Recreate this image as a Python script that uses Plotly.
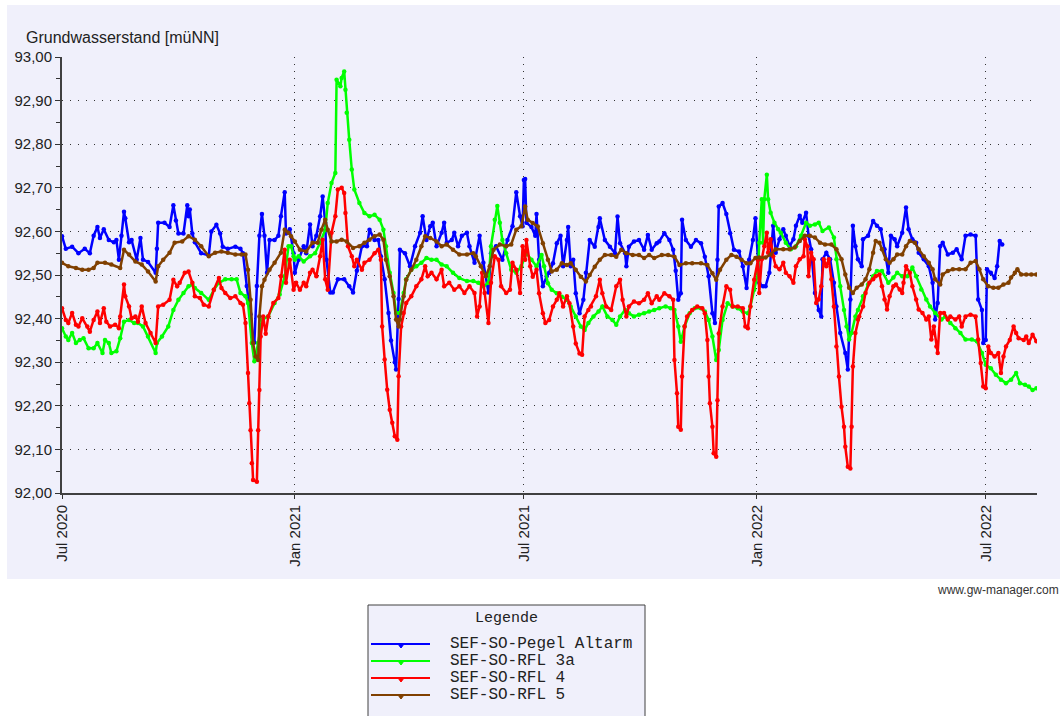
import plotly.graph_objects as go
import pandas as pd

# ---------------- data ----------------
START = pd.Timestamp("2020-07-01")  # day 0 of the readings below

series_names = ["SEF-SO-Pegel Altarm", "SEF-SO-RFL 3a", "SEF-SO-RFL 4", "SEF-SO-RFL 5"]
series_colors = ["#0000FF", "#00FF00", "#FF0000", "#804000"]

# (days since START, Grundwasserstand [müNN])
blue_readings = [
    (0, 92.589), (3, 92.56), (8, 92.565), (13, 92.55), (18, 92.56), (22, 92.55), (25, 92.59), (28, 92.61),
    (30, 92.585), (33, 92.605), (37, 92.58), (41, 92.575), (43, 92.58), (45, 92.535), (47, 92.59), (49, 92.645),
    (50, 92.63), (53, 92.575), (55, 92.58), (59, 92.535), (62, 92.585), (64, 92.535), (68, 92.53), (74, 92.505),
    (75, 92.56), (76, 92.62), (81, 92.62), (85, 92.61), (88, 92.66), (90, 92.625), (92, 92.595), (96, 92.595),
    (99, 92.66), (100, 92.635), (101, 92.65), (103, 92.595), (105, 92.575), (110, 92.55), (116, 92.545),
    (118, 92.60), (122, 92.615), (125, 92.595), (127, 92.565), (131, 92.56), (137, 92.565), (141, 92.56),
    (143, 92.55), (146, 92.475), (149, 92.41), (151, 92.35), (152, 92.345), (154, 92.475), (156, 92.59),
    (158, 92.64), (160, 92.59), (162, 92.505), (164, 92.58), (168, 92.58), (171, 92.59), (173, 92.635),
    (176, 92.69), (177, 92.595), (180, 92.605), (183, 92.55),
    (184, 92.505), (187, 92.535), (191, 92.566), (193, 92.55), (196, 92.616), (198, 92.566), (201, 92.59),
    (204, 92.635), (206, 92.68), (208, 92.62), (209, 92.535), (212, 92.46), (214, 92.46), (218, 92.49),
    (223, 92.49), (227, 92.474), (230, 92.46), (233, 92.51), (237, 92.566), (241, 92.566), (243, 92.604),
    (247, 92.58), (250, 92.58), (252, 92.543), (255, 92.49), (258, 92.413), (260, 92.35), (263, 92.30),
    (264, 92.283), (266, 92.445), (267, 92.558), (271, 92.55), (275, 92.52), (279, 92.566), (283, 92.597),
    (285, 92.635), (288, 92.58), (291, 92.612), (293, 92.62), (296, 92.566), (300, 92.597), (302, 92.62),
    (304, 92.574), (308, 92.58), (310, 92.597), (313, 92.566), (316, 92.59), (320, 92.597), (322, 92.566),
    (326, 92.528), (330, 92.59), (333, 92.528), (337, 92.46), (339, 92.55), (343, 92.566), (348, 92.535),
    (352, 92.58), (356, 92.612), (359, 92.69), (362, 92.635), (364, 92.612),
    (365, 92.718), (366, 92.72), (367, 92.62), (371, 92.61), (374, 92.59), (375, 92.64), (377, 92.535),
    (380, 92.474), (383, 92.497), (385, 92.505), (388, 92.527), (391, 92.573), (394, 92.59), (396, 92.52),
    (399, 92.58), (400, 92.61), (402, 92.52), (404, 92.535), (406, 92.458), (409, 92.412), (412, 92.443),
    (414, 92.505), (417, 92.58), (421, 92.565), (424, 92.61), (425, 92.63), (429, 92.58), (433, 92.565),
    (437, 92.55), (439, 92.634), (441, 92.573), (445, 92.55), (446, 92.52), (448, 92.565), (452, 92.577),
    (456, 92.58), (460, 92.558), (463, 92.592), (466, 92.558), (470, 92.573), (472, 92.577), (476, 92.596),
    (480, 92.58), (483, 92.558), (485, 92.51), (487, 92.443), (489, 92.458), (490, 92.627), (493, 92.58),
    (497, 92.565), (501, 92.58), (505, 92.573), (508, 92.542), (511, 92.497), (514, 92.412), (516, 92.39),
    (518, 92.535), (519, 92.657), (522, 92.665), (525, 92.64), (528, 92.596), (531, 92.558), (535, 92.554),
    (538, 92.52), (541, 92.47), (543, 92.535), (546, 92.58), (548, 92.63), (550, 92.535),
    (551, 92.482), (554, 92.474), (556, 92.474), (559, 92.505), (562, 92.613), (564, 92.551), (567, 92.582),
    (570, 92.605), (572, 92.59), (575, 92.566), (578, 92.582), (580, 92.613), (583, 92.636), (585, 92.62),
    (588, 92.643), (590, 92.59), (592, 92.559), (595, 92.459), (598, 92.42), (600, 92.405), (601, 92.536),
    (604, 92.551), (607, 92.536), (610, 92.482), (612, 92.428), (615, 92.367), (619, 92.321), (621, 92.283),
    (623, 92.444), (625, 92.613), (627, 92.566), (629, 92.536), (632, 92.52), (633, 92.582), (637, 92.59),
    (641, 92.624), (644, 92.613), (647, 92.605), (650, 92.559), (653, 92.505), (655, 92.59), (658, 92.582),
    (660, 92.566), (664, 92.597), (667, 92.655), (669, 92.605), (672, 92.582), (675, 92.574), (677, 92.551),
    (681, 92.536), (685, 92.52), (688, 92.482), (690, 92.398), (692, 92.436), (694, 92.566), (696, 92.574),
    (700, 92.547), (704, 92.551), (707, 92.559), (711, 92.536), (714, 92.59), (718, 92.593), (722, 92.59),
    (724, 92.444), (727, 92.42), (728, 92.344), (730, 92.351), (731, 92.513), (734, 92.505), (737, 92.493),
    (739, 92.52), (741, 92.578), (743, 92.57),
]

green_readings = [
    (0, 92.378), (3, 92.359), (5, 92.351), (8, 92.367), (11, 92.344), (14, 92.351), (17, 92.355), (21, 92.332),
    (25, 92.332), (28, 92.344), (32, 92.321), (34, 92.351), (37, 92.344), (39, 92.321), (43, 92.325),
    (46, 92.355), (49, 92.393), (53, 92.397), (57, 92.39), (60, 92.39), (64, 92.382), (68, 92.359),
    (74, 92.321), (75, 92.344), (79, 92.359), (84, 92.382), (88, 92.42), (92, 92.443), (96, 92.459),
    (100, 92.474), (103, 92.478), (105, 92.47), (110, 92.459), (116, 92.443), (120, 92.466), (124, 92.482),
    (129, 92.49), (134, 92.49), (138, 92.49), (141, 92.459), (145, 92.451), (147, 92.436), (150, 92.344),
    (152, 92.302), (155, 92.344), (158, 92.397), (163, 92.405), (168, 92.436), (172, 92.455), (176, 92.497),
    (179, 92.566), (181, 92.566), (183, 92.543),
    (184, 92.535), (187, 92.543), (191, 92.531), (196, 92.543), (200, 92.55), (204, 92.574), (208, 92.604),
    (210, 92.665), (213, 92.711), (216, 92.734), (217, 92.948), (220, 92.933), (221, 92.952), (223, 92.967),
    (224, 92.925), (225, 92.872), (227, 92.81), (229, 92.742), (231, 92.696), (235, 92.665), (239, 92.642),
    (243, 92.635), (247, 92.638), (251, 92.627), (254, 92.604), (256, 92.566), (259, 92.505), (262, 92.459),
    (264, 92.413), (267, 92.413), (270, 92.459), (272, 92.49), (276, 92.512), (280, 92.52), (284, 92.528),
    (288, 92.539), (292, 92.535), (296, 92.535), (300, 92.524), (304, 92.52), (309, 92.505), (314, 92.493),
    (320, 92.486), (325, 92.486), (329, 92.482), (333, 92.474), (337, 92.482), (339, 92.566), (342, 92.627),
    (344, 92.658), (346, 92.62), (348, 92.58), (351, 92.55), (355, 92.512), (359, 92.505), (363, 92.52),
    (367, 92.55), (371, 92.535), (375, 92.52), (379, 92.546), (381, 92.52), (384, 92.481), (387, 92.466),
    (391, 92.458), (395, 92.45), (399, 92.443), (402, 92.428), (406, 92.405), (410, 92.382), (413, 92.374),
    (416, 92.39), (420, 92.405), (424, 92.416), (427, 92.428), (431, 92.405), (435, 92.397), (438, 92.386),
    (441, 92.405), (445, 92.42), (448, 92.412), (452, 92.405), (456, 92.409), (460, 92.412), (464, 92.416),
    (468, 92.42), (472, 92.424), (477, 92.428), (481, 92.424), (484, 92.42), (487, 92.382), (489, 92.347),
    (492, 92.382), (496, 92.412), (500, 92.424), (505, 92.424), (508, 92.416), (511, 92.397), (514, 92.359),
    (517, 92.305), (519, 92.328), (522, 92.397), (526, 92.435), (530, 92.428), (534, 92.424), (538, 92.416),
    (542, 92.412), (544, 92.428), (547, 92.466), (550, 92.504),
    (551, 92.574), (553, 92.674), (554, 92.574), (555, 92.674), (557, 92.73), (558, 92.674), (560, 92.643),
    (563, 92.62), (566, 92.605), (568, 92.597), (572, 92.574), (576, 92.559), (580, 92.566), (584, 92.59),
    (588, 92.62), (591, 92.613), (595, 92.616), (598, 92.62), (601, 92.601), (606, 92.609), (610, 92.586),
    (612, 92.536), (615, 92.474), (618, 92.42), (620, 92.382), (622, 92.352), (624, 92.367), (627, 92.405),
    (629, 92.42), (633, 92.451), (637, 92.478), (641, 92.497), (644, 92.509), (648, 92.509), (653, 92.482),
    (657, 92.494), (660, 92.505), (664, 92.497), (668, 92.497), (672, 92.517), (675, 92.497), (679, 92.467),
    (683, 92.444), (686, 92.428), (690, 92.413), (695, 92.398), (698, 92.405), (702, 92.39), (706, 92.378),
    (710, 92.367), (714, 92.352), (719, 92.352), (723, 92.348), (727, 92.321), (730, 92.294), (734, 92.286),
    (738, 92.271), (742, 92.26), (746, 92.252), (750, 92.26), (754, 92.275), (757, 92.252), (761, 92.248),
    (764, 92.244), (767, 92.236), (770, 92.24),
]

red_readings = [
    (0, 92.424), (3, 92.397), (5, 92.39), (8, 92.413), (11, 92.386), (13, 92.382), (16, 92.401), (20, 92.382),
    (22, 92.37), (25, 92.397), (28, 92.416), (30, 92.39), (33, 92.424), (35, 92.393), (38, 92.382),
    (42, 92.386), (45, 92.378), (46, 92.405), (49, 92.478), (50, 92.451), (53, 92.428), (55, 92.401),
    (58, 92.405), (60, 92.393), (63, 92.428), (66, 92.39), (70, 92.367), (74, 92.344), (76, 92.428),
    (80, 92.432), (85, 92.443), (88, 92.489), (91, 92.474), (93, 92.482), (97, 92.505), (100, 92.508),
    (103, 92.482), (105, 92.451), (109, 92.447), (112, 92.432), (116, 92.428), (120, 92.466), (124, 92.493),
    (126, 92.47), (129, 92.459), (133, 92.447), (137, 92.451), (141, 92.436), (143, 92.432), (145, 92.39),
    (147, 92.275), (148, 92.206), (149, 92.144), (150, 92.068), (151, 92.03), (154, 92.026), (155, 92.144),
    (156, 92.236), (157, 92.359), (159, 92.405), (161, 92.365), (163, 92.405), (167, 92.436), (171, 92.447),
    (173, 92.497), (176, 92.558), (177, 92.482), (180, 92.535), (183, 92.466),
    (185, 92.482), (188, 92.466), (191, 92.482), (193, 92.474), (196, 92.505), (198, 92.512), (201, 92.497),
    (204, 92.543), (206, 92.581), (208, 92.49), (210, 92.466), (213, 92.597), (216, 92.635), (218, 92.696),
    (221, 92.70), (223, 92.688), (224, 92.642), (226, 92.566), (229, 92.543), (231, 92.52), (233, 92.535),
    (237, 92.512), (239, 92.528), (243, 92.535), (247, 92.55), (250, 92.558), (252, 92.535), (253, 92.382),
    (255, 92.306), (257, 92.237), (259, 92.191), (261, 92.161), (263, 92.13), (265, 92.122), (266, 92.268),
    (268, 92.382), (270, 92.413), (272, 92.436), (276, 92.451), (280, 92.474), (284, 92.49), (287, 92.52),
    (289, 92.497), (292, 92.505), (296, 92.49), (300, 92.512), (302, 92.474), (306, 92.482), (310, 92.466),
    (314, 92.474), (318, 92.459), (322, 92.474), (326, 92.459), (328, 92.405), (330, 92.428), (332, 92.505),
    (334, 92.459), (337, 92.39), (339, 92.482), (342, 92.543), (345, 92.535), (347, 92.474), (351, 92.459),
    (354, 92.466), (356, 92.528), (359, 92.512), (362, 92.459), (364, 92.566),
    (366, 92.535), (367, 92.58), (370, 92.52), (372, 92.496), (375, 92.512), (377, 92.458), (380, 92.412),
    (382, 92.39), (385, 92.397), (388, 92.428), (391, 92.443), (393, 92.458), (396, 92.428), (399, 92.451),
    (401, 92.435), (404, 92.382), (406, 92.343), (409, 92.32), (411, 92.317), (413, 92.405), (416, 92.42),
    (418, 92.428), (422, 92.451), (425, 92.489), (427, 92.458), (430, 92.428), (434, 92.42), (438, 92.474),
    (441, 92.489), (443, 92.443), (446, 92.405), (448, 92.428), (452, 92.439), (456, 92.435), (460, 92.443),
    (463, 92.458), (466, 92.435), (470, 92.451), (472, 92.443), (476, 92.458), (480, 92.451), (483, 92.443),
    (484, 92.305), (486, 92.229), (487, 92.152), (489, 92.145), (490, 92.267), (492, 92.382), (494, 92.405),
    (498, 92.42), (502, 92.428), (506, 92.424), (508, 92.412), (510, 92.351), (511, 92.267), (512, 92.206),
    (514, 92.152), (515, 92.091), (517, 92.083), (518, 92.213), (519, 92.366), (522, 92.428), (525, 92.474),
    (528, 92.466), (530, 92.428), (534, 92.428), (538, 92.424), (540, 92.382), (542, 92.378), (544, 92.428),
    (547, 92.489), (550, 92.535),
    (551, 92.459), (553, 92.536), (555, 92.566), (557, 92.597), (558, 92.551), (560, 92.582), (562, 92.543),
    (564, 92.52), (567, 92.513), (570, 92.528), (572, 92.505), (575, 92.497), (578, 92.482), (580, 92.52),
    (583, 92.536), (586, 92.543), (587, 92.582), (589, 92.566), (590, 92.497), (592, 92.551), (594, 92.536),
    (596, 92.436), (598, 92.444), (600, 92.474), (602, 92.536), (604, 92.52), (606, 92.536), (608, 92.49),
    (610, 92.428), (612, 92.336), (614, 92.267), (616, 92.198), (618, 92.152), (619, 92.106), (621, 92.06),
    (623, 92.056), (624, 92.152), (625, 92.29), (627, 92.367), (629, 92.398), (630, 92.405), (633, 92.428),
    (635, 92.459), (638, 92.482), (641, 92.49), (643, 92.497), (646, 92.501), (648, 92.474), (650, 92.444),
    (652, 92.421), (654, 92.451), (657, 92.474), (659, 92.478), (662, 92.467), (664, 92.459), (665, 92.482),
    (667, 92.52), (670, 92.505), (672, 92.474), (675, 92.444), (677, 92.421), (680, 92.413), (683, 92.398),
    (685, 92.405), (687, 92.352), (689, 92.382), (691, 92.336), (692, 92.321), (694, 92.413), (697, 92.413),
    (700, 92.398), (702, 92.405), (706, 92.398), (709, 92.405), (711, 92.382), (714, 92.405), (718, 92.409),
    (722, 92.405), (724, 92.352), (726, 92.298), (728, 92.244), (730, 92.24), (732, 92.336), (734, 92.321),
    (737, 92.313), (740, 92.321), (742, 92.275), (744, 92.313), (746, 92.336), (749, 92.351), (752, 92.382),
    (754, 92.367), (756, 92.355), (760, 92.351), (762, 92.359), (764, 92.344), (767, 92.363), (770, 92.348),
]

brown_readings = [
    (0, 92.528), (5, 92.52), (11, 92.516), (16, 92.512), (21, 92.512), (25, 92.516), (28, 92.528), (34, 92.528),
    (39, 92.524), (46, 92.516), (49, 92.558), (53, 92.547), (58, 92.531), (63, 92.524), (68, 92.508),
    (74, 92.485), (76, 92.52), (80, 92.535), (85, 92.551), (89, 92.574), (95, 92.577), (100, 92.589),
    (105, 92.581), (110, 92.566), (116, 92.543), (121, 92.551), (126, 92.554), (131, 92.551), (137, 92.547),
    (142, 92.547), (145, 92.547), (147, 92.512), (149, 92.443), (151, 92.344), (153, 92.313), (155, 92.305),
    (156, 92.405), (158, 92.474), (160, 92.489), (164, 92.512), (168, 92.528), (173, 92.551), (176, 92.604),
    (179, 92.597), (181, 92.589),
    (184, 92.577), (188, 92.558), (193, 92.554), (198, 92.574), (202, 92.574), (205, 92.604), (208, 92.627),
    (210, 92.604), (213, 92.577), (217, 92.577), (221, 92.581), (225, 92.577), (230, 92.562), (235, 92.566),
    (239, 92.574), (243, 92.581), (247, 92.589), (251, 92.593), (254, 92.581), (256, 92.535), (259, 92.497),
    (262, 92.451), (264, 92.398), (266, 92.382), (267, 92.398), (270, 92.451), (272, 92.489), (276, 92.512),
    (280, 92.535), (284, 92.566), (287, 92.589), (291, 92.585), (296, 92.577), (300, 92.566), (304, 92.57),
    (309, 92.558), (314, 92.547), (320, 92.547), (325, 92.55), (327, 92.543), (331, 92.52), (335, 92.497),
    (338, 92.52), (341, 92.558), (346, 92.57), (351, 92.566), (355, 92.57), (359, 92.604), (363, 92.612),
    (366, 92.657), (368, 92.627), (372, 92.619), (376, 92.611), (380, 92.573), (384, 92.535), (387, 92.508),
    (391, 92.512), (395, 92.527), (399, 92.523), (402, 92.527), (406, 92.512), (410, 92.496), (414, 92.485),
    (417, 92.5), (421, 92.519), (425, 92.535), (429, 92.546), (434, 92.546), (438, 92.542), (442, 92.558),
    (446, 92.55), (451, 92.546), (456, 92.546), (460, 92.539), (464, 92.546), (468, 92.539), (474, 92.546),
    (479, 92.546), (484, 92.542), (488, 92.523), (493, 92.527), (498, 92.527), (505, 92.527), (510, 92.523),
    (514, 92.504), (517, 92.489), (520, 92.512), (525, 92.535), (529, 92.546), (533, 92.542), (537, 92.535),
    (541, 92.527), (544, 92.527), (548, 92.539),
    (551, 92.54), (556, 92.54), (560, 92.547), (564, 92.559), (570, 92.559), (575, 92.559), (579, 92.563),
    (583, 92.578), (587, 92.59), (591, 92.59), (595, 92.586), (599, 92.574), (603, 92.57), (608, 92.57),
    (612, 92.559), (616, 92.536), (619, 92.501), (622, 92.471), (625, 92.459), (628, 92.471), (632, 92.478),
    (635, 92.49), (638, 92.513), (641, 92.551), (643, 92.578), (646, 92.574), (648, 92.559), (651, 92.536),
    (654, 92.528), (657, 92.536), (660, 92.547), (664, 92.547), (667, 92.566), (670, 92.578), (674, 92.574),
    (677, 92.559), (681, 92.543), (685, 92.528), (688, 92.513), (690, 92.49), (694, 92.478), (696, 92.501),
    (700, 92.509), (704, 92.513), (709, 92.513), (714, 92.513), (718, 92.528), (722, 92.532), (725, 92.513),
    (728, 92.49), (732, 92.474), (736, 92.471), (740, 92.471), (744, 92.478), (748, 92.482), (750, 92.494),
    (753, 92.505), (755, 92.513), (758, 92.501), (762, 92.501), (766, 92.501), (770, 92.501),
]

x_tick_dates = ["2020-07-01", "2021-01-01", "2021-07-01", "2022-01-01", "2022-07-01"]
x_tick_labels = ["Jul 2020", "Jan 2021", "Jul 2021", "Jan 2022", "Jul 2022"]
x_range = ["2020-07-01", "2022-08-10 12:00"]
y_range = [92.0, 93.0]

y_title = "Grundwasserstand [müNN]"
legend_title = "Legende"
credit = "www.gw-manager.com"

# ---------------- layout constants (pixels) ----------------
W, H = 1064, 716
PL, PR, PT, PB = 62, 1037, 57, 493  # plot area edges
PANEL = "#F0F0FB"


def px(x):
    return (x - PL) / (PR - PL)


def py(y):
    return (PB - y) / (PB - PT)


fig = go.Figure()

all_readings = [blue_readings, green_readings, red_readings, brown_readings]
for name, color, readings in zip(series_names, series_colors, all_readings):
    days = [d for d, _ in readings]
    vals = [v for _, v in readings]
    dates = START + pd.to_timedelta(days, unit="D")
    fig.add_trace(go.Scatter(
        x=dates, y=vals, name=name, mode="lines+markers",
        line=dict(color=color, width=2.5),
        marker=dict(color=color, size=4.5),
        showlegend=False,
    ))

shapes = []
annotations = []

# chart panel background
shapes.append(dict(type="rect", xref="paper", yref="paper", layer="below",
                   x0=px(7), x1=px(1060), y0=py(5), y1=py(579),
                   fillcolor=PANEL, line=dict(width=0)))

# manual legend box
LX0, LX1, LY0, LY1 = 368, 645, 605, 730
shapes.append(dict(type="rect", xref="paper", yref="paper", layer="above",
                   x0=px(LX0), x1=px(LX1), y0=py(LY0), y1=py(LY1),
                   fillcolor=PANEL, line=dict(color="#404040", width=1)))
annotations.append(dict(text=legend_title, xref="paper", yref="paper",
                        x=px((LX0 + LX1) / 2), y=py(618), xanchor="center", yanchor="middle",
                        showarrow=False, font=dict(family="Liberation Mono", size=15, color="#222")))
for i, (name, color) in enumerate(zip(series_names, series_colors)):
    yy = 644 + 17 * i
    shapes.append(dict(type="line", xref="paper", yref="paper",
                       x0=px(371), x1=px(430), y0=py(yy), y1=py(yy),
                       line=dict(color=color, width=2)))
    shapes.append(dict(type="path", xref="paper", yref="paper",
                       path=f"M {px(398)},{py(yy)} L {px(404)},{py(yy)} L {px(401)},{py(yy + 4)} Z",
                       fillcolor=color, line=dict(color=color, width=1)))
    annotations.append(dict(text=name, xref="paper", yref="paper",
                            x=px(448), y=py(yy), xanchor="left", yanchor="middle",
                            showarrow=False, font=dict(family="Liberation Mono", size=16, color="#222")))

# y-axis title and credit
annotations.append(dict(text=y_title, xref="paper", yref="paper",
                        x=px(24), y=py(38), xanchor="left", yanchor="middle", showarrow=False,
                        font=dict(family="Liberation Sans", size=16, color="#222")))
annotations.append(dict(text=credit, xref="paper", yref="paper",
                        x=px(1061), y=py(590), xanchor="right", yanchor="middle", showarrow=False,
                        font=dict(family="Liberation Sans", size=12, color="#333")))

fig.update_layout(
    width=W, height=H,
    margin=dict(l=PL, r=W - PR, t=PT, b=H - PB, pad=0),
    paper_bgcolor="white",
    plot_bgcolor="rgba(0,0,0,0)",
    separators=",.",
    showlegend=False,
    shapes=shapes,
    annotations=annotations,
    font=dict(family="Liberation Sans", size=15, color="#222"),
)

fig.update_xaxes(
    type="date", range=x_range,
    tickmode="array", tickvals=x_tick_dates, ticktext=x_tick_labels,
    tickangle=-90, tickfont=dict(family="Liberation Sans", size=15, color="#222"),
    ticks="outside", ticklen=4, tickcolor="#333",
    showline=True, linecolor="#404040", linewidth=2,
    showgrid=True, gridcolor="#333", gridwidth=1, griddash="1px,6px",
    zeroline=False,
)
fig.update_yaxes(
    range=y_range, dtick=0.1, tick0=92.0, tickformat=".2f",
    tickfont=dict(family="Liberation Sans", size=15, color="#222"),
    ticks="outside", ticklen=5, tickcolor="#333",
    minor=dict(dtick=0.05, ticks="outside", ticklen=4, tickcolor="#333", showgrid=False),
    showline=True, linecolor="#404040", linewidth=2,
    showgrid=True, gridcolor="#333", gridwidth=1, griddash="1px,7px",
    zeroline=False,
)

fig.write_html(
    "out.html",
    config={"displayModeBar": False},
    post_script="document.body.style.margin='0px';document.body.style.overflow='hidden';",
)
